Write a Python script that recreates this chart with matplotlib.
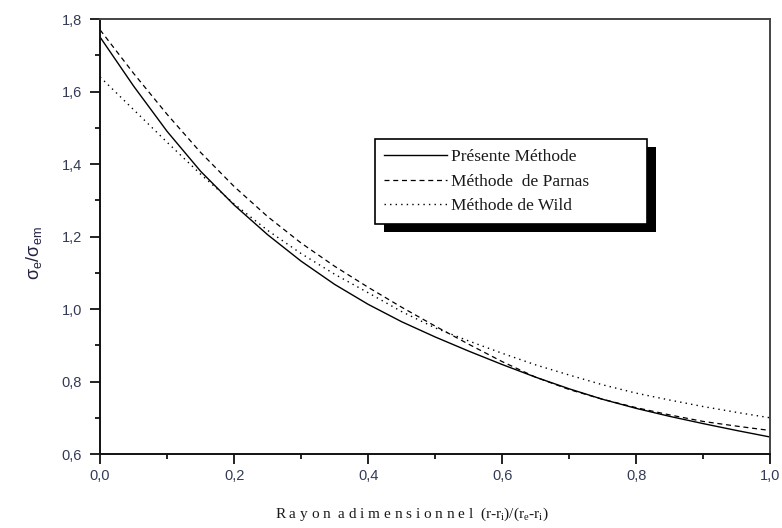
import matplotlib
matplotlib.use("Agg")
import matplotlib.pyplot as plt
from matplotlib.patches import Rectangle
from matplotlib.ticker import FuncFormatter, MultipleLocator

# Rayon adimensionnel et contrainte équivalente normalisée
x = [0.0, 0.05, 0.10, 0.15, 0.20, 0.25, 0.30, 0.35, 0.40, 0.45, 0.50,
     0.55, 0.60, 0.65, 0.70, 0.75, 0.80, 0.85, 0.90, 0.95, 1.0]
presente = [1.750, 1.615, 1.490, 1.380, 1.287, 1.205, 1.132, 1.068, 1.013, 0.965, 0.923,
            0.884, 0.847, 0.812, 0.780, 0.751, 0.726, 0.704, 0.684, 0.665, 0.647]
parnas = [1.770, 1.650, 1.537, 1.432, 1.338, 1.255, 1.182, 1.118, 1.060, 1.005, 0.953,
          0.903, 0.855, 0.812, 0.778, 0.751, 0.728, 0.708, 0.690, 0.677, 0.665]
wild = [1.640, 1.550, 1.460, 1.372, 1.290, 1.217, 1.153, 1.096, 1.045, 0.993, 0.948,
        0.912, 0.878, 0.846, 0.818, 0.791, 0.768, 0.749, 0.731, 0.715, 0.700]
labels = ["Présente Méthode", "Méthode  de Parnas", "Méthode de Wild"]

tick_col = "#333a55"
plt.rcParams["mathtext.fontset"] = "custom"
plt.rcParams["mathtext.rm"] = "Liberation Serif"
plt.rcParams["mathtext.it"] = "Liberation Serif"
plt.rcParams["mathtext.sf"] = "Liberation Sans"

fig = plt.figure(figsize=(7.82, 5.28), dpi=100)
fig.patch.set_facecolor("white")
ax = fig.add_axes([0.128, 0.140, 0.857, 0.824])

ax.plot(x, presente, "-", color="black", lw=1.0, label=labels[0])
ax.plot(x, parnas, "--", color="black", lw=0.9, dashes=(4, 3), label=labels[1])
ax.plot(x, wild, ":", color="black", lw=1.0, dashes=(1, 3), label=labels[2])

ax.set_xlim(0.0, 1.0)
ax.set_ylim(0.6, 1.8)
ax.xaxis.set_major_locator(MultipleLocator(0.2))
ax.xaxis.set_minor_locator(MultipleLocator(0.1))
ax.yaxis.set_major_locator(MultipleLocator(0.2))
ax.yaxis.set_minor_locator(MultipleLocator(0.1))
fmt = FuncFormatter(lambda v, _: f"{v:.1f}".replace(".", ","))
ax.xaxis.set_major_formatter(fmt)
ax.yaxis.set_major_formatter(fmt)

for side in ("left", "bottom"):
    ax.spines[side].set_linewidth(1.4)
    ax.spines[side].set_color("#111111")
for side in ("top", "right"):
    ax.spines[side].set_linewidth(1.4)
    ax.spines[side].set_color("#444444")
ax.tick_params(which="both", direction="out", top=False, right=False,
               colors="#111111", width=1.3, labelcolor=tick_col)
ax.tick_params(which="major", length=7, labelsize=10.5)
ax.tick_params(axis="y", which="major", pad=6)
ax.tick_params(axis="x", which="major", pad=4)
ax.tick_params(which="minor", length=3.8)
for lab in ax.get_xticklabels() + ax.get_yticklabels():
    lab.set_fontfamily("Liberation Sans")

fig.text(0.043, 0.52, r"$\mathsf{\sigma_e/\sigma_{em}}$", rotation=90, ha="center", va="center",
         fontsize=13, color="#222244")
fig.text(0.527, 0.025, r"R a y o n  a d i m e n s i o n n e l  (r-r$_i$)/(r$_e$-r$_i$)",
         ha="center", va="center", fontsize=11, color="#1a1a1a", family="Liberation Serif")

leg = ax.legend(loc="upper left", bbox_to_anchor=(0.41, 0.536, 0.406, 0.188), mode="expand",
                frameon=True, fancybox=False, framealpha=1.0, borderpad=0.55,
                labelspacing=0.5, handlelength=3.6, handletextpad=0.25, borderaxespad=0.0,
                prop={"family": "Liberation Serif", "size": 12.5})
leg.get_frame().set_edgecolor("black")
leg.get_frame().set_facecolor("white")
leg.get_frame().set_linewidth(1.2)
leg.set_zorder(5)
for t in leg.get_texts():
    t.set_color("#1a1a1a")

# Ombre noire décalée derrière la légende
fig.canvas.draw()
bb = leg.get_window_extent().transformed(fig.transFigure.inverted())
dx, dy = 9 / 782, 8 / 528
shadow = Rectangle((bb.x0 + dx, bb.y0 - dy), bb.width, bb.height,
                   transform=fig.transFigure, facecolor="black",
                   edgecolor="none", zorder=4, clip_on=False)
ax.add_artist(shadow)
fig.savefig("out.png", dpi=100, facecolor="white")
